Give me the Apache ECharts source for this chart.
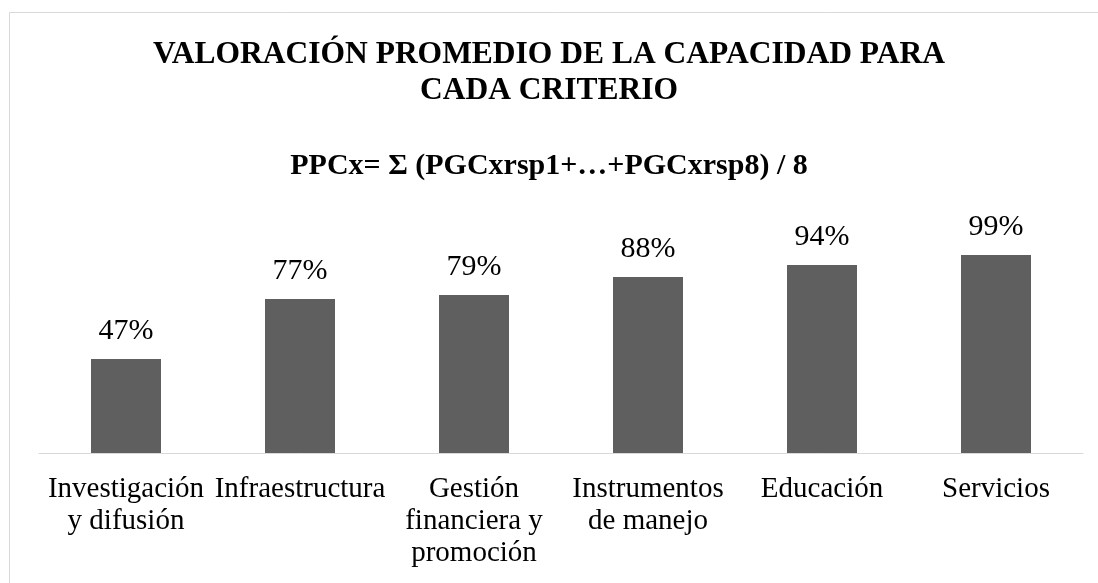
<!DOCTYPE html>
<html>
<head>
<meta charset="utf-8">
<script src="https://cdn.jsdelivr.net/npm/echarts@6/dist/echarts.min.js"></script>
<style>
  html, body { margin: 0; padding: 0; background: #fff; }
  #chart { width: 1098px; height: 583px; }
</style>
</head>
<body>
<div id="chart"></div>
<script>
// datos del gráfico
const categories = ['Investigación\ny difusión', 'Infraestructura', 'Gestión\nfinanciera y\npromoción', 'Instrumentos\nde manejo', 'Educación', 'Servicios'];
const values = [47, 77, 79, 88, 94, 99];
const titleText = 'VALORACIÓN PROMEDIO DE LA CAPACIDAD PARA\nCADA CRITERIO';
const subtitleText = 'PPCx= Σ (PGCxrsp1+…+PGCxrsp8) / 8';

const FONT = '"Liberation Serif", "Times New Roman", serif';

const chart = echarts.init(document.getElementById('chart'));

chart.setOption({
  animation: false,
  backgroundColor: '#fff',
  graphic: [{
    type: 'rect',
    shape: { x: 9.5, y: 12.5, width: 1200, height: 700 },
    style: { fill: 'none', stroke: '#d9d9d9', lineWidth: 1 },
    silent: true
  }],
  title: [{
    text: titleText,
    left: 'center',
    top: 32,
    textStyle: { fontFamily: FONT, fontSize: 31.5, fontWeight: 'bold', color: '#000', lineHeight: 36 }
  }, {
    text: subtitleText,
    left: 'center',
    top: 146,
    textStyle: { fontFamily: FONT, fontSize: 30, fontWeight: 'bold', color: '#000', lineHeight: 30 }
  }],
  grid: { left: 39, right: 15, top: 213, bottom: 130, containLabel: false },
  xAxis: {
    type: 'category',
    data: categories,
    axisLine: { lineStyle: { color: '#d9d9d9', width: 1 } },
    axisTick: { show: false },
    axisLabel: {
      interval: 0,
      margin: 20,
      fontFamily: FONT,
      fontSize: 29,
      lineHeight: 32,
      color: '#000'
    }
  },
  yAxis: {
    type: 'value',
    min: 0,
    max: 120,
    show: false
  },
  series: [{
    type: 'bar',
    data: values,
    barWidth: 70,
    itemStyle: { color: '#5f5f5f' },
    label: {
      show: true,
      position: 'top',
      distance: 13,
      formatter: p => p.value + '%',
      fontFamily: FONT,
      fontSize: 30,
      lineHeight: 30,
      color: '#000'
    }
  }]
});
</script>
</body>
</html>
